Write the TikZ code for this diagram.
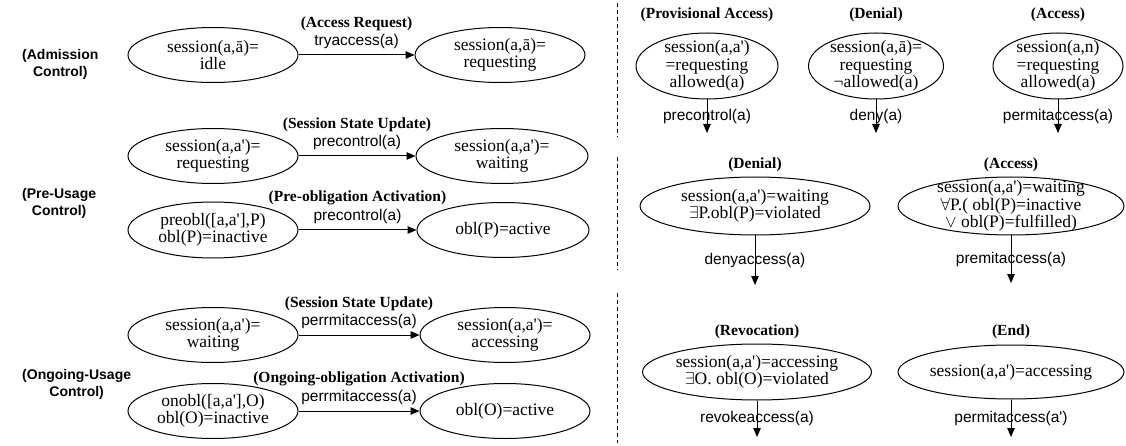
\documentclass[tikz,border=0pt]{standalone}
\usepackage{fontspec}
\setmainfont{Liberation Serif}
\setsansfont{Liberation Sans}
\usetikzlibrary{arrows.meta,shapes.geometric,positioning}
\newcommand{\qs}{\textquotesingle}
\begin{document}
\begin{tikzpicture}[x=1pt,y=-1pt,
 ell/.style={ellipse,draw,line width=1pt,inner sep=0pt},
 etxt/.style={align=center,inner sep=0pt,font=\fontsize{17.5}{17.5}\selectfont},
 ttl/.style={inner sep=0pt,font=\fontsize{15.5}{16}\selectfont\bfseries},
 act/.style={inner sep=0pt,font=\sffamily\fontsize{15.5}{17}\selectfont},
 grp/.style={align=center,inner sep=0pt,anchor=west,font=\sffamily\bfseries\fontsize{14}{17}\selectfont},
 arr/.style={-{Triangle[length=9pt,width=7.5pt]},line width=1pt},
 sep/.style={dash pattern=on 4pt off 3pt,line width=1pt}]
\useasboundingbox (0,0) rectangle (1126,446);

% group labels
\node[grp] (g1) at (22,64) {(Admission\\Control)};
\node[grp] (g2) at (22,203) {(Pre-Usage\\Control)};
\node[grp] (g3) at (22,384) {(Ongoing-Usage\\Control)};

% row A
\node[ell,minimum width=170,minimum height=55] (a1) at (213,55) {};
\node[etxt] (a1t) at (a1) {session(a,\=a)=\\idle};
\node[ell,minimum width=170,minimum height=55] (a2) at (500,55) {};
\node[etxt] (a2t) at (a2) {session(a,\=a)=\\requesting};
\draw[arr] (a1) -- node[act,above=6pt] (a12l) {tryaccess(a)} (a2);
\node[ttl,above=3pt of a12l] (a12h) {(Access Request)};

% row B
\node[ell,minimum width=170,minimum height=55] (b1) at (213,156) {};
\node[etxt] (b1t) at (b1) {session(a,a\qs)=\\requesting};
\node[ell,minimum width=172,minimum height=55] (b2) at (502,156) {};
\node[etxt] (b2t) at (b2) {session(a,a\qs)=\\waiting};
\draw[arr] (b1) -- node[act,above=6pt] (b12l) {precontrol(a)} (b2);
\node[ttl,above=3pt of b12l] (b12h) {(Session State Update)};

% row C
\node[ell,minimum width=170,minimum height=56] (c1) at (213,230) {};
\node[etxt] (c1t) at (c1) {preobl([a,a\qs],P)\\obl(P)=inactive};
\node[ell,minimum width=172,minimum height=55] (c2) at (503,230) {};
\node[etxt] (c2t) at (c2) {obl(P)=active};
\draw[arr] (c1) -- node[act,above=6pt] (c12l) {precontrol(a)} (c2);
\node[ttl,above=3pt of c12l] (c12h) {(Pre-obligation Activation)};

% row D
\node[ell,minimum width=170,minimum height=55] (d1) at (213,335) {};
\node[etxt] (d1t) at (d1) {session(a,a\qs)=\\waiting};
\node[ell,minimum width=170,minimum height=55] (d2) at (505,335) {};
\node[etxt] (d2t) at (d2) {session(a,a\qs)=\\accessing};
\draw[arr] (d1) -- node[act,above=6pt] (d12l) {perrmitaccess(a)} (d2);
\node[ttl,above=3pt of d12l] (d12h) {(Session State Update)};

% row E
\node[ell,minimum width=170,minimum height=55] (e1) at (213,411) {};
\node[etxt] (e1t) at (e1) {onobl([a,a\qs],O)\\obl(O)=inactive};
\node[ell,minimum width=170,minimum height=55] (e2) at (505,411) {};
\node[etxt] (e2t) at (e2) {obl(O)=active};
\draw[arr] (e1) -- node[act,above=6pt] (e12l) {perrmitaccess(a)} (e2);
\node[ttl,above=3pt of e12l] (e12h) {(Ongoing-obligation Activation)};

% separator
\draw[sep] (617,3) -- (617,137);
\draw[sep] (617,157) -- (617,270);
\draw[sep] (617,293) -- (617,443);

% right top row
\node[ttl] (r1h) at (707,15) {(Provisional Access)};
\node[ell,minimum width=142,minimum height=66] (r1) at (707,66) {};
\node[etxt] (r1t) at (r1) {session(a,a\qs)\\=requesting\\allowed(a)};
\coordinate (r1e) at (707,133);
\draw[arr] (r1) -- node[act] (r1l) {precontrol(a)} (r1e);

\node[ttl] (r2h) at (876,15) {(Denial)};
\node[ell,minimum width=135,minimum height=66] (r2) at (876,66) {};
\node[etxt] (r2t) at (r2) {session(a,\=a)=\\requesting\\¬allowed(a)};
\coordinate (r2e) at (876,133);
\draw[arr] (r2) -- node[act] (r2l) {deny(a)} (r2e);

\node[ttl] (r3h) at (1058,15) {(Access)};
\node[ell,minimum width=130,minimum height=66] (r3) at (1058,66) {};
\node[etxt] (r3t) at (r3) {session(a,n)\\=requesting\\allowed(a)};
\coordinate (r3e) at (1058,133);
\draw[arr] (r3) -- node[act] (r3l) {permitaccess(a)} (r3e);

% right middle row
\node[ttl] (m1h) at (755,165) {(Denial)};
\node[ell,minimum width=230,minimum height=58] (m1) at (755,206) {};
\node[etxt] (m1t) at (m1) {session(a,a\qs)=waiting\\$\exists$P.obl(P)=violated};
\coordinate (m1e) at (755,285);
\draw[arr] (m1) -- node[act] (m1l) {denyaccess(a)} (m1e);

\node[ttl] (m2h) at (1011,165) {(Access)};
\node[ell,minimum width=226,minimum height=58] (m2) at (1011,206) {};
\node[etxt] (m2t) at (m2) {session(a,a\qs)=waiting\\$\forall$P.( obl(P)=inactive\\$\vee$ obl(P)=fulfilled)};
\coordinate (m2e) at (1011,283);
\draw[arr] (m2) -- node[act] (m2l) {premitaccess(a)} (m2e);

% right bottom row
\node[ttl] (n1h) at (757,332) {(Revocation)};
\node[ell,minimum width=229,minimum height=56] (n1) at (757,372) {};
\node[etxt] (n1t) at (n1) {session(a,a\qs)=accessing\\$\exists$O. obl(O)=violated};
\coordinate (n1e) at (757,437);
\draw[arr] (n1) -- node[act] (n1l) {revokeaccess(a)} (n1e);

\node[ttl] (n2h) at (1011,332) {(End)};
\node[ell,minimum width=226,minimum height=54] (n2) at (1011,372) {};
\node[etxt] (n2t) at (n2) {session(a,a\qs)=accessing};
\coordinate (n2e) at (1011,437);
\draw[arr] (n2) -- node[act] (n2l) {permitaccess(a\qs)} (n2e);
\end{tikzpicture}
\end{document}
